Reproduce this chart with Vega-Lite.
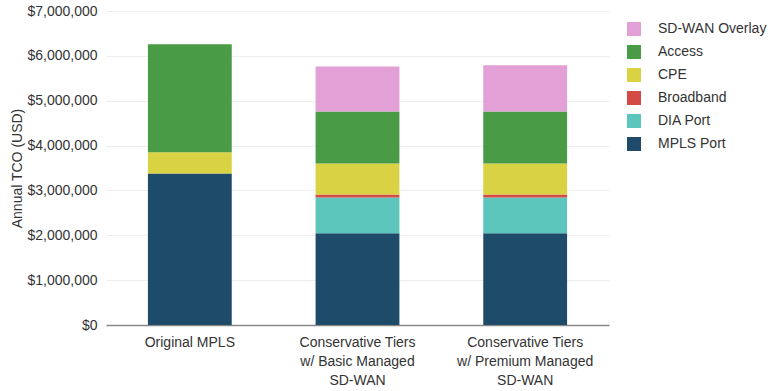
{
  "$schema": "https://vega.github.io/schema/vega-lite/v6.json",
  "autosize": "none",
  "width": 503,
  "height": 314,
  "padding": {"left": 106, "top": 11, "right": 166, "bottom": 66},
  "background": "white",
  "config": {
    "font": "Liberation Sans",
    "view": {"stroke": null},
    "axis": {"labelFont": "Liberation Sans", "titleFont": "Liberation Sans", "labelColor": "#333333", "titleColor": "#333333"}
  },
  "data": {
    "values": [
      {"scenario": "Original MPLS", "component": "MPLS Port", "cost": 3380000, "ord": 1},
      {"scenario": "Original MPLS", "component": "CPE", "cost": 470000, "ord": 4},
      {"scenario": "Original MPLS", "component": "Access", "cost": 2410000, "ord": 5},
      {"scenario": "Conservative Tiers w/ Basic Managed SD-WAN", "component": "MPLS Port", "cost": 2045000, "ord": 1},
      {"scenario": "Conservative Tiers w/ Basic Managed SD-WAN", "component": "DIA Port", "cost": 795000, "ord": 2},
      {"scenario": "Conservative Tiers w/ Basic Managed SD-WAN", "component": "Broadband", "cost": 70000, "ord": 3},
      {"scenario": "Conservative Tiers w/ Basic Managed SD-WAN", "component": "CPE", "cost": 690000, "ord": 4},
      {"scenario": "Conservative Tiers w/ Basic Managed SD-WAN", "component": "Access", "cost": 1160000, "ord": 5},
      {"scenario": "Conservative Tiers w/ Basic Managed SD-WAN", "component": "SD-WAN Overlay", "cost": 1000000, "ord": 6},
      {"scenario": "Conservative Tiers w/ Premium Managed SD-WAN", "component": "MPLS Port", "cost": 2045000, "ord": 1},
      {"scenario": "Conservative Tiers w/ Premium Managed SD-WAN", "component": "DIA Port", "cost": 795000, "ord": 2},
      {"scenario": "Conservative Tiers w/ Premium Managed SD-WAN", "component": "Broadband", "cost": 70000, "ord": 3},
      {"scenario": "Conservative Tiers w/ Premium Managed SD-WAN", "component": "CPE", "cost": 690000, "ord": 4},
      {"scenario": "Conservative Tiers w/ Premium Managed SD-WAN", "component": "Access", "cost": 1160000, "ord": 5},
      {"scenario": "Conservative Tiers w/ Premium Managed SD-WAN", "component": "SD-WAN Overlay", "cost": 1030000, "ord": 6}
    ]
  },
  "mark": {"type": "bar"},
  "encoding": {
    "x": {
      "field": "scenario",
      "type": "nominal",
      "sort": null,
      "scale": {"paddingInner": 0.5, "paddingOuter": 0.25},
      "axis": {
        "title": null,
        "labelAngle": 0,
        "labelFontSize": 14,
        "labelLineHeight": 19,
        "labelPadding": 10,
        "ticks": false,
        "domainColor": "#888888",
        "domainWidth": 1.5,
        "labelExpr": "datum.value == 'Original MPLS' ? 'Original MPLS' : (indexof(datum.value, 'Basic') >= 0 ? ['Conservative Tiers', 'w/ Basic Managed', 'SD-WAN'] : ['Conservative Tiers', 'w/ Premium Managed', 'SD-WAN'])"
      }
    },
    "y": {
      "field": "cost",
      "type": "quantitative",
      "stack": "zero",
      "scale": {"domain": [0, 7000000]},
      "axis": {
        "title": "Annual TCO (USD)",
        "titleFontSize": 14,
        "titleFontWeight": "normal",
        "titlePadding": 2,
        "labelFontSize": 14,
        "labelPadding": 9,
        "labelOverlap": false,
        "format": "$,.0f",
        "values": [0, 1000000, 2000000, 3000000, 4000000, 5000000, 6000000, 7000000],
        "domain": false,
        "ticks": false,
        "gridColor": "#EEEEEE",
        "gridWidth": 1
      }
    },
    "color": {
      "field": "component",
      "type": "nominal",
      "scale": {
        "domain": ["SD-WAN Overlay", "Access", "CPE", "Broadband", "DIA Port", "MPLS Port"],
        "range": ["#E2A0D6", "#4A9B45", "#D9D343", "#D44A45", "#5CC6BD", "#1F4B6B"]
      },
      "legend": {
        "title": null,
        "orient": "none",
        "legendX": 521,
        "legendY": 11,
        "symbolType": "square",
        "symbolSize": 196,
        "symbolStrokeWidth": 0,
        "labelFontSize": 14,
        "labelColor": "#333333",
        "labelFont": "Liberation Sans",
        "labelOffset": 17,
        "rowPadding": 9
      }
    },
    "order": {"field": "ord", "type": "quantitative"}
  }
}
